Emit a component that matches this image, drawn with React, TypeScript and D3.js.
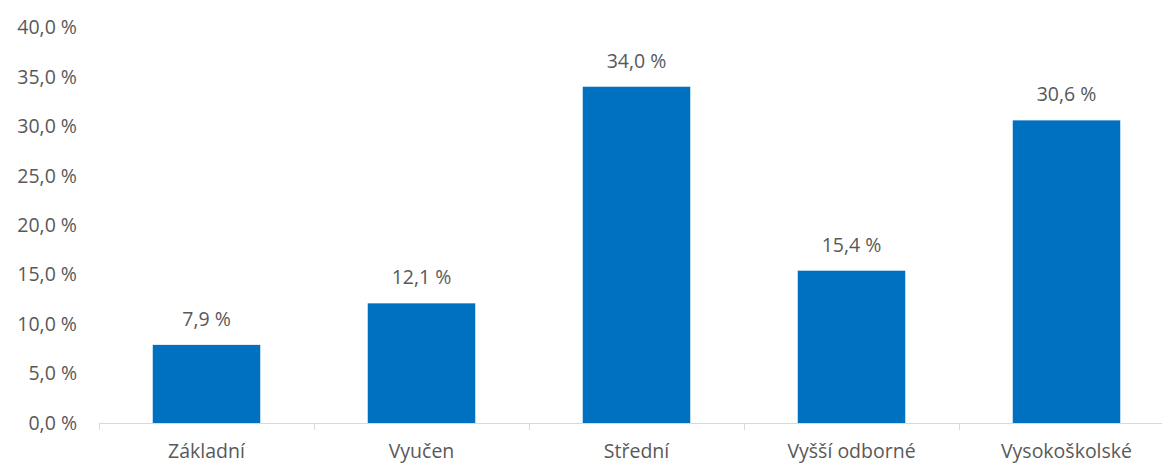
import React, { useEffect, useRef } from 'react';
import * as d3 from 'd3';

// education level shares
const categories = ['Základní', 'Vyučen', 'Střední', 'Vyšší odborné', 'Vysokoškolské'];
const shares = [7.9, 12.1, 34.0, 15.4, 30.6];
const yTicks = [0, 5, 10, 15, 20, 25, 30, 35, 40];

const fmt = (v: number) => `${v.toFixed(1).replace('.', ',')} %`;

const W = 1162;
const H = 464;

const App = () => {
    const svgRef = useRef<SVGSVGElement>(null);

    useEffect(() => {
        const svg = d3.select(svgRef.current);
        svg.selectAll('*').remove();

        const font = "'Open Sans', 'Noto Sans', sans-serif";
        const textColor = '#595959';
        const fontSize = '19.5px';

        const x = d3.scaleBand<string>()
            .domain(categories)
            .range([99, 1174])
            .paddingInner(0.5)
            .paddingOuter(0.25);

        const y = d3.scaleLinear()
            .domain([0, 40])
            .range([423, 27.4]);

        // y labels (no gridlines)
        svg.append('g')
            .selectAll('text')
            .data(yTicks)
            .enter()
            .append('text')
            .attr('x', 77)
            .attr('y', d => y(d))
            .attr('dy', '0.35em')
            .attr('text-anchor', 'end')
            .attr('fill', textColor)
            .style('font-family', font)
            .style('font-size', fontSize)
            .text(d => fmt(d));

        // bars
        svg.append('g')
            .selectAll('rect')
            .data(shares)
            .enter()
            .append('rect')
            .attr('x', (d, i) => x(categories[i])!)
            .attr('y', d => y(d))
            .attr('width', x.bandwidth())
            .attr('height', d => y(0) - y(d))
            .attr('fill', '#0070C0');

        // value labels
        svg.append('g')
            .selectAll('text')
            .data(shares)
            .enter()
            .append('text')
            .attr('x', (d, i) => x(categories[i])! + x.bandwidth() / 2)
            .attr('y', d => y(d) - 19)
            .attr('text-anchor', 'middle')
            .attr('fill', textColor)
            .style('font-family', font)
            .style('font-size', fontSize)
            .text(d => fmt(d));

        // x axis line + boundary ticks
        const step = x.step();
        const x0 = 99;
        svg.append('line')
            .attr('x1', x0)
            .attr('x2', 1174)
            .attr('y1', y(0) + 0.5)
            .attr('y2', y(0) + 0.5)
            .attr('stroke', '#D9D9D9')
            .attr('stroke-width', 1);

        svg.append('g')
            .selectAll('line')
            .data(d3.range(categories.length + 1))
            .enter()
            .append('line')
            .attr('x1', i => x0 + i * step + 0.5)
            .attr('x2', i => x0 + i * step + 0.5)
            .attr('y1', y(0))
            .attr('y2', y(0) + 7)
            .attr('stroke', '#D9D9D9')
            .attr('stroke-width', 1);

        // category labels
        svg.append('g')
            .selectAll('text')
            .data(categories)
            .enter()
            .append('text')
            .attr('x', d => x(d)! + x.bandwidth() / 2)
            .attr('y', 457.5)
            .attr('text-anchor', 'middle')
            .attr('fill', textColor)
            .style('font-family', font)
            .style('font-size', fontSize)
            .text(d => d);
    }, []);

    return (
        <svg
            ref={svgRef}
            width={W}
            height={H}
            style={{ position: 'absolute', left: 0, top: 0, background: '#fff', overflow: 'hidden' }}
        />
    );
};

export default App;
